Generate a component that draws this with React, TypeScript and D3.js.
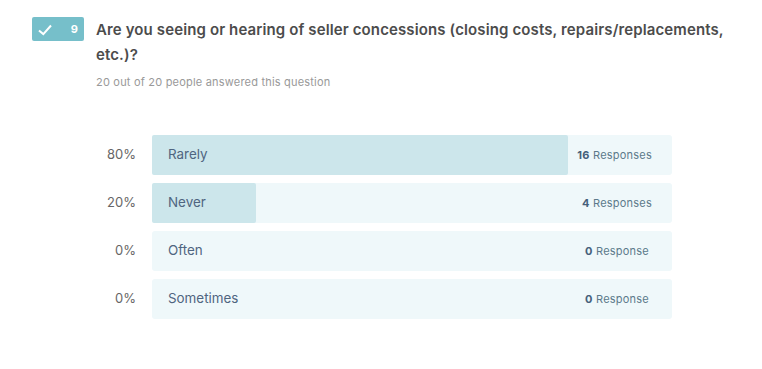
import React from "react";
import * as d3 from "d3";

const categories = ["Rarely", "Never", "Often", "Sometimes"];
const counts = [16, 4, 0, 0];
const percents = ["80%", "20%", "0%", "0%"];
const units = ["Responses", "Responses", "Response", "Response"];
const labelEnds = [652, 652, 649, 649];
const title1 = "Are you seeing or hearing of seller concessions (closing costs, repairs/replacements,";
const title2 = "etc.)?";
const subtitle = "20 out of 20 people answered this question";
const font = "Inter, Lato, sans-serif";

export default function App() {
  const x = d3.scaleLinear().domain([0, 20]).range([152, 672]);
  const y = d3.scaleBand<string>().domain(categories).range([135, 319]).paddingInner(8 / 48).paddingOuter(0).align(0);
  const h = y.bandwidth();
  return (
    <svg width={762} height={369} style={{ position: "absolute", left: 0, top: 0 }} fontFamily={font}>
      <rect width={762} height={369} fill="#fff" />
      <rect x={32} y={17} width={52} height={24} rx={2} fill="#76bfca" />
      <path d="M39 30.5l4.3 3.6 7.7-8.6" fill="none" stroke="#fff" strokeWidth={2} />
      <text x={74.3} y={33} textAnchor="middle" fontSize={11} fontWeight={700} fill="#fff">9</text>
      <text x={96} y={35} fontSize={15} fontWeight={600} fill="#4c4c4c" letterSpacing={0.12}>{title1}</text>
      <text x={96} y={60} fontSize={15} fontWeight={600} fill="#4c4c4c" letterSpacing={0.12}>{title2}</text>
      <text x={96} y={86} fontSize={11} fill="#999" letterSpacing={0.2}>{subtitle}</text>
      {categories.map((c, i) => {
        const top = y(c)!;
        const w = x(counts[i]) - x(0);
        return (
          <g key={c}>
            <text x={136} y={top + 24} textAnchor="end" fontSize={13} fill="#666">{percents[i]}</text>
            <rect x={x(0)} y={top} width={x(20) - x(0)} height={h} rx={3} fill="#eff8fa" />
            {w > 0 && <rect x={x(0)} y={top} width={w} height={h} rx={2} fill="#cce6eb" />}
            <text x={168} y={top + 24} fontSize={13.4} fill="#4f6580">{c}</text>
            <text x={labelEnds[i]} y={top + 24} textAnchor="end" fontSize={11} fill="#5c7a8a" letterSpacing={0.22}>
              <tspan fontWeight={700} fill="#46607a">{counts[i]}</tspan> {units[i]}
            </text>
          </g>
        );
      })}
    </svg>
  );
}
